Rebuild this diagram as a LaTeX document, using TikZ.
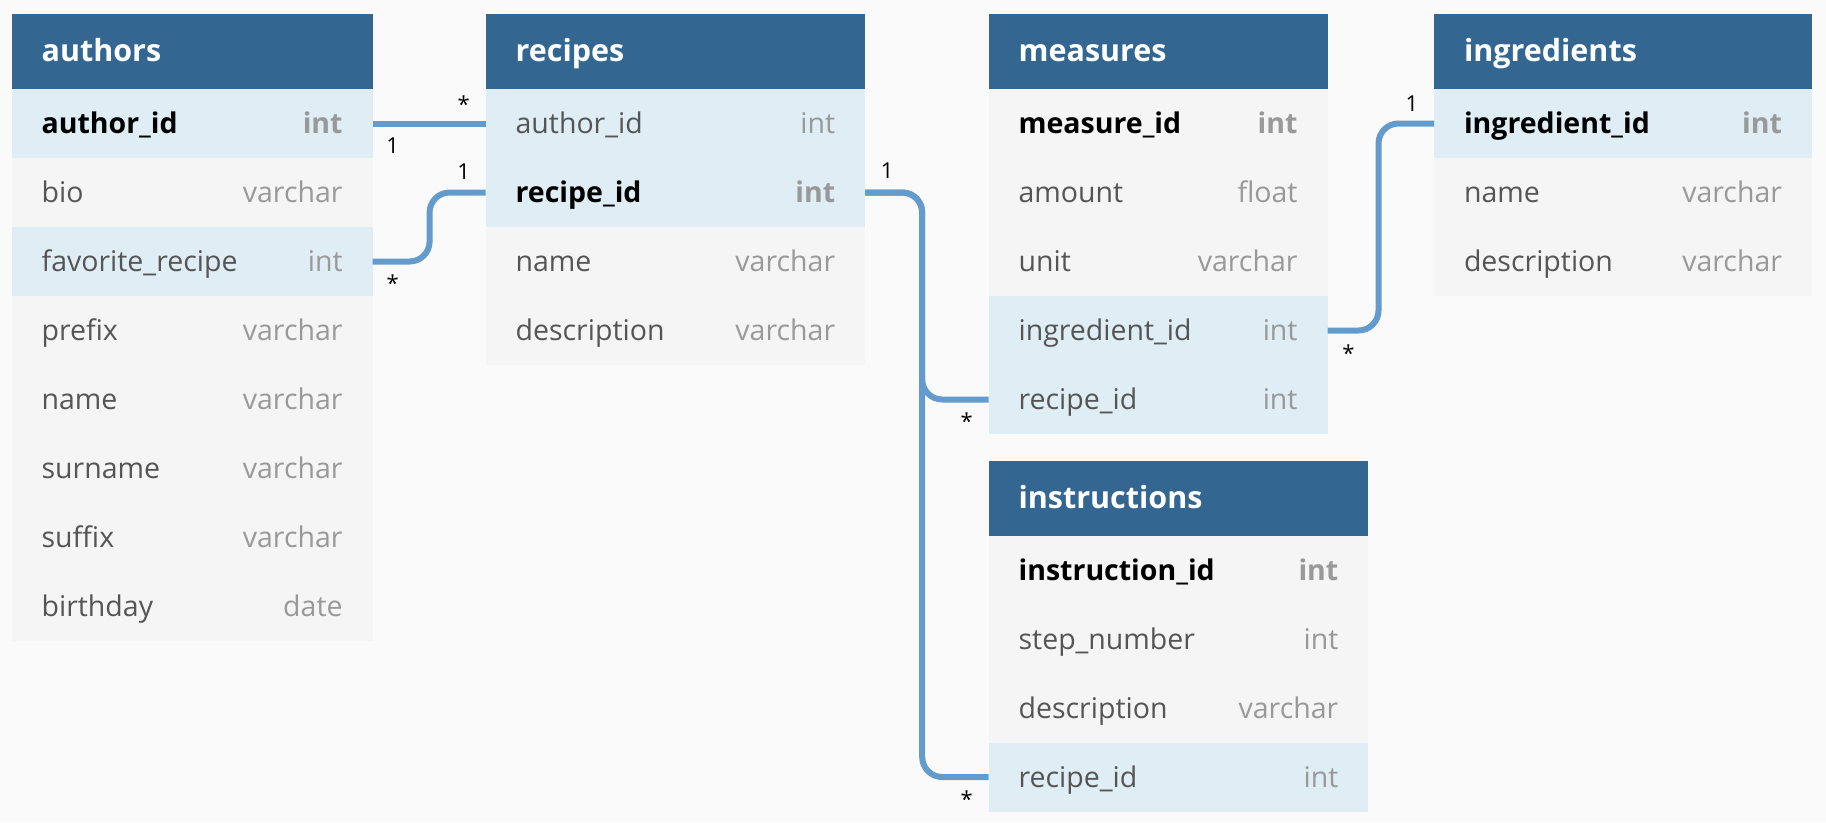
\documentclass[tikz,border=0pt]{standalone}
\usepackage{fontspec}
\setmainfont{Open Sans}
\usetikzlibrary{positioning}
\definecolor{headblue}{HTML}{336791}
\definecolor{keyfill}{HTML}{DFEDF5}
\definecolor{rowfill}{HTML}{F5F5F5}
\definecolor{pagefill}{HTML}{FAFAFA}
\definecolor{linkblue}{HTML}{639BCC}
\definecolor{fieldgray}{HTML}{555555}
\definecolor{typegray}{HTML}{999999}
\begin{document}
\begin{tikzpicture}[x=1pt,y=-1pt,
  every node/.style={outer sep=0pt},
  head/.style={fill=headblue, text=white, anchor=north west, minimum height=75pt,
    inner xsep=30pt, inner ysep=0pt, text height=20pt, text depth=0pt, align=left,
    font=\fontsize{30.5}{36}\selectfont\bfseries},
  row/.style={fill=rowfill, text=fieldgray, below=0pt of #1, minimum height=69pt,
    inner xsep=30pt, inner ysep=0pt, text height=20pt, text depth=0pt, align=left,
    font=\fontsize{28.5}{34}\selectfont},
  key/.style={fill=keyfill},
  link/.style={draw=linkblue, line width=6pt, rounded corners=20pt},
  card/.style={anchor=base, inner sep=0pt, text=black, font=\fontsize{22}{26}\selectfont}]
\fill[pagefill] (0,0) rectangle (1826,822);
% authors
\begin{scope}[nodes={text width=301pt}]
\node[head] (au-head) at (11.6,14) {authors};
\node[row=au-head, key] (au-id) {\textcolor{black}{\bfseries author\_id}\hfill\textcolor{typegray}{\bfseries int}};
\node[row=au-id] (au-bio) {bio\hfill\textcolor{typegray}{varchar}};
\node[row=au-bio, key] (au-fav) {favorite\_recipe\hfill\textcolor{typegray}{int}};
\node[row=au-fav] (au-pre) {prefix\hfill\textcolor{typegray}{varchar}};
\node[row=au-pre] (au-name) {name\hfill\textcolor{typegray}{varchar}};
\node[row=au-name] (au-sur) {surname\hfill\textcolor{typegray}{varchar}};
\node[row=au-sur] (au-suf) {suffix\hfill\textcolor{typegray}{varchar}};
\node[row=au-suf] (au-birth) {birthday\hfill\textcolor{typegray}{date}};
\end{scope}
% recipes
\begin{scope}[nodes={text width=319.6pt}]
\node[head] (re-head) at (485.6,14) {recipes};
\node[row=re-head, key] (re-aid) {author\_id\hfill\textcolor{typegray}{int}};
\node[row=re-aid, key] (re-id) {\textcolor{black}{\bfseries recipe\_id}\hfill\textcolor{typegray}{\bfseries int}};
\node[row=re-id] (re-name) {name\hfill\textcolor{typegray}{varchar}};
\node[row=re-name] (re-desc) {description\hfill\textcolor{typegray}{varchar}};
\end{scope}
% measures
\begin{scope}[nodes={text width=278.9pt}]
\node[head] (me-head) at (988.6,14) {measures};
\node[row=me-head] (me-id) {\textcolor{black}{\bfseries measure\_id}\hfill\textcolor{typegray}{\bfseries int}};
\node[row=me-id] (me-amt) {amount\hfill\textcolor{typegray}{float}};
\node[row=me-amt] (me-unit) {unit\hfill\textcolor{typegray}{varchar}};
\node[row=me-unit, key] (me-ing) {ingredient\_id\hfill\textcolor{typegray}{int}};
\node[row=me-ing, key] (me-rid) {recipe\_id\hfill\textcolor{typegray}{int}};
\end{scope}
% ingredients
\begin{scope}[nodes={text width=318pt}]
\node[head] (ig-head) at (1434,14) {ingredients};
\node[row=ig-head, key] (ig-id) {\textcolor{black}{\bfseries ingredient\_id}\hfill\textcolor{typegray}{\bfseries int}};
\node[row=ig-id] (ig-name) {name\hfill\textcolor{typegray}{varchar}};
\node[row=ig-name] (ig-desc) {description\hfill\textcolor{typegray}{varchar}};
\end{scope}
% instructions
\begin{scope}[nodes={text width=319.7pt}]
\node[head] (in-head) at (988.6,460.5) {instructions};
\node[row=in-head] (in-id) {\textcolor{black}{\bfseries instruction\_id}\hfill\textcolor{typegray}{\bfseries int}};
\node[row=in-id] (in-step) {step\_number\hfill\textcolor{typegray}{int}};
\node[row=in-step] (in-desc) {description\hfill\textcolor{typegray}{varchar}};
\node[row=in-desc, key] (in-rid) {recipe\_id\hfill\textcolor{typegray}{int}};
\end{scope}
% links
\draw[link] (au-id.east) -- node[card, at start, xshift=20pt, yshift=-30pt] {1}
  node[card, at end, xshift=-22pt, yshift=11pt] {*} (re-aid.west);
\draw[link] (au-fav.east) -- ++(57,0) |- node[card, at start, xshift=-37pt, yshift=-30pt] {*}
  node[card, at end, xshift=-22pt, yshift=13pt] {1} (re-id.west);
\draw[link] (re-id.east) -- ++(57,0) |- (me-rid.west);
\draw[link] (re-id.east) -- node[card, at start, xshift=22pt, yshift=14pt] {1} ++(57,0) |-
  node[card, at end, xshift=-22pt, yshift=-30pt] {*} (in-rid.west);
\node[card] at ([xshift=-22pt, yshift=-30pt]me-rid.west) {*};
\draw[link] (me-ing.east) -- node[card, at start, xshift=21pt, yshift=-31pt] {*} ++(51,0) |-
  node[card, at end, xshift=-22pt, yshift=12pt] {1} (ig-id.west);
\end{tikzpicture}
\end{document}
